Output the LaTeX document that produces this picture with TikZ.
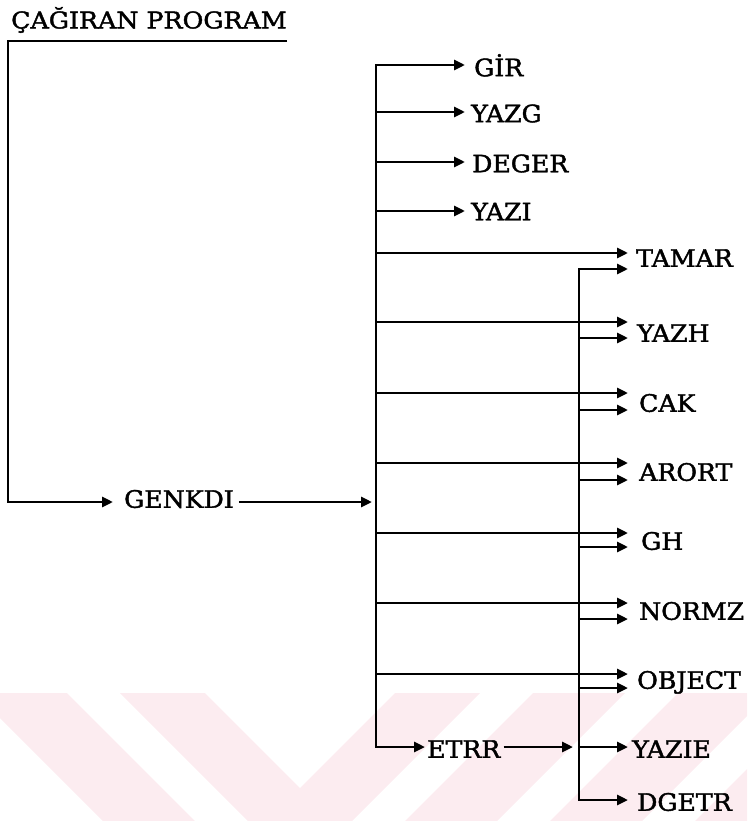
\documentclass[tikz,border=0pt]{standalone}
\usepackage{fontspec}
\usetikzlibrary{arrows.meta}
\newfontfamily\labfont[FakeStretch=1.05,FakeBold=1.8]{DejaVu Serif}
\newfontfamily\ttlfont[FakeStretch=1.1,FakeBold=1.8]{DejaVu Serif}
\definecolor{wmpink}{RGB}{252,236,240}
\tikzset{
  lab/.style={anchor=west, inner xsep=0pt, inner ysep=0pt, text height=17.5pt, text depth=0pt,
              font=\labfont\fontsize{24}{28}\selectfont},
  ttl/.style={anchor=west, inner xsep=0pt, inner ysep=0pt, text height=16.8pt, text depth=0pt,
              font=\ttlfont\fontsize{23}{27}\selectfont},
  ln/.style={line width=2.8pt},
  tip/.tip={Triangle[length=11pt,width=10pt]},
  arr/.style={ln, -{tip}},
  darr/.style={ln, {tip}-{tip}},
  sh/.style={shorten >=#1pt},
  shs/.style={shorten <=#1pt},
  wm/.style={fill=wmpink, draw=none}
}
\begin{document}
\begin{tikzpicture}[x=1pt,y=-1pt]
\useasboundingbox (0,0) rectangle (747,821);
% watermark
\begin{scope}
\clip (0,0) rectangle (747,821);
\fill[wm] (-25,693) -- (67,693) -- (195,821) -- (103,821) -- cycle;
\fill[wm] (120,693) -- (205,693) -- (300,788) -- (395,693) -- (480,693) -- (352,821) -- (248,821) -- cycle;
\fill[wm] (533,693) -- (625,693) -- (497,821) -- (405,821) -- cycle;
\fill[wm] (678,693) -- (770,693) -- (642,821) -- (550,821) -- cycle;
\fill[wm] (823,693) -- (915,693) -- (787,821) -- (695,821) -- cycle;
\end{scope}

% labels
\node[ttl] (title) at (11,20) {ÇAĞIRAN PROGRAM};
\node[lab] (genkdi) at (124,499) {GENKDI};
\node[lab] (gir) at (474,67.5) {GİR};
\node[lab] (yazg) at (471,113.5) {YAZG};
\node[lab] (deger) at (472,163.5) {DEGER};
\node[lab] (yazi) at (471,211.5) {YAZI};
\node[lab] (tamar) at (636,258) {TAMAR};
\node[lab] (yazh) at (637,333) {YAZH};
\node[lab] (cak) at (639,403) {CAK};
\node[lab] (arort) at (639,472) {ARORT};
\node[lab] (gh) at (641,541) {GH};
\node[lab] (normz) at (639,611) {NORMZ};
\node[lab] (object) at (637,680) {OBJECT};
\node[lab] (etrr) at (427,749) {ETRR};
\node[lab] (yazie) at (632,749) {YAZIE};
\node[lab] (dgetr) at (637,802) {DGETR};

% junctions
\coordinate (ul) at (8,41);
\coordinate (ur) at (287,41);
\coordinate (bGIR) at (376,65);
\coordinate (bYAZG) at (376,112);
\coordinate (bDEGER) at (376,162);
\coordinate (bYAZI) at (376,211);
\coordinate (bTAMAR) at (376,253);
\coordinate (bYAZH) at (376,322);
\coordinate (bCAK) at (376,393);
\coordinate (bARORT) at (376,463);
\coordinate (bGENK) at (376,502);
\coordinate (bGH) at (376,533);
\coordinate (bNORMZ) at (376,603);
\coordinate (bOBJ) at (376,674);
\coordinate (bETRR) at (376,747);
\coordinate (sTAMAR) at (579,269);
\coordinate (sYAZH) at (579,338);
\coordinate (sCAK) at (579,410);
\coordinate (sARORT) at (579,480);
\coordinate (sGH) at (579,547);
\coordinate (sNORMZ) at (579,619);
\coordinate (sOBJ) at (579,688);
\coordinate (sYAZIE) at (579,747);
\coordinate (sDGETR) at (579,800);

% title underline and call into GENKDI
\draw[arr, sh=11, line join=miter] (ur) -- (ul) |- (genkdi.west |- bGENK);
\draw[arr, shs=5, sh=4] (genkdi.east |- bGENK) -- (bGENK);

% main bus
\draw[darr, shorten <=9pt, shorten >=2pt, line join=miter]
  (bGIR -| gir.west) -- (bGIR) -- (bETRR) -- (bETRR -| etrr.west);
\draw[arr, sh=6] (bYAZG) -- (bYAZG -| yazg.west);
\draw[arr, sh=7] (bDEGER) -- (bDEGER -| deger.west);
\draw[arr, sh=6] (bYAZI) -- (bYAZI -| yazi.west);
\draw[arr, sh=8] (bTAMAR) -- (bTAMAR -| tamar.west);
\draw[arr, sh=9] (bYAZH) -- (bYAZH -| yazh.west);
\draw[arr, sh=11] (bCAK) -- (bCAK -| cak.west);
\draw[arr, sh=11] (bARORT) -- (bARORT -| arort.west);
\draw[arr, sh=13] (bGH) -- (bGH -| gh.west);
\draw[arr, sh=11] (bNORMZ) -- (bNORMZ -| normz.west);
\draw[arr, sh=9] (bOBJ) -- (bOBJ -| object.west);

% second bus
\draw[darr, shorten <=8pt, shorten >=9pt, line join=miter]
  (sTAMAR -| tamar.west) -- (sTAMAR) -- (sDGETR) -- (sDGETR -| dgetr.west);
\draw[arr, sh=9] (sYAZH) -- (sYAZH -| yazh.west);
\draw[arr, sh=11] (sCAK) -- (sCAK -| cak.west);
\draw[arr, sh=11] (sARORT) -- (sARORT -| arort.west);
\draw[arr, sh=13] (sGH) -- (sGH -| gh.west);
\draw[arr, sh=11] (sNORMZ) -- (sNORMZ -| normz.west);
\draw[arr, sh=9] (sOBJ) -- (sOBJ -| object.west);

% ETRR into second bus, then YAZIE
\draw[arr, shs=3, sh=6] (etrr.east |- bETRR) -- (sYAZIE);
\draw[arr, sh=4] (sYAZIE) -- (sYAZIE -| yazie.west);
\end{tikzpicture}
\end{document}
